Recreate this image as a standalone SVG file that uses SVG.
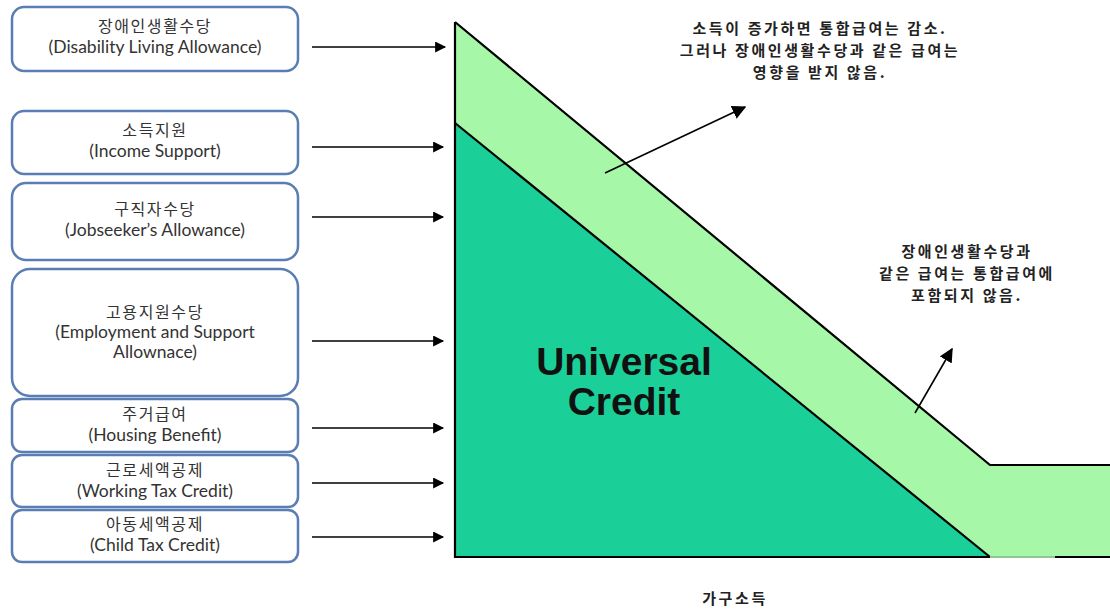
<svg xmlns="http://www.w3.org/2000/svg" width="1110" height="610" viewBox="0 0 1110 610">
<defs>
<style>
.box{fill:#fff;stroke:#5a7db3;stroke-width:2.5}
.bt{font-family:Lato,"Open Sans","Noto Sans CJK KR",sans-serif;font-size:17.5px;fill:#333;text-anchor:middle}
.ko{font-family:"Noto Sans CJK KR",sans-serif;font-size:16px;letter-spacing:1.6px;fill:#333;text-anchor:middle}
.note{font-family:"Noto Sans CJK KR",sans-serif;font-size:15px;letter-spacing:2.6px;font-weight:bold;fill:#222;text-anchor:middle}
.con{stroke:#000;stroke-width:1.6;fill:none;marker-end:url(#ah)}
.edge{stroke:#000;stroke-width:2.2;fill:none}
</style>
<marker id="ah" viewBox="0 0 10 10" refX="9" refY="5" markerWidth="12" markerHeight="11" markerUnits="userSpaceOnUse" orient="auto"><path d="M0,0 L10,5 L0,10 Z" fill="#000"/></marker>
<marker id="ah2" viewBox="0 0 10 10" refX="9" refY="5" markerWidth="14" markerHeight="14" markerUnits="userSpaceOnUse" orient="auto"><path d="M0,0 L10,5 L0,10 Z" fill="#000"/></marker>
</defs>
<rect width="1110" height="610" fill="#fff"/>
<g id="chart">
<polygon points="455,22 990,465 1110,465 1110,557 455,557" fill="#a6f7a8"/>
<polygon points="455,123 990,557 455,557" fill="#1bcf98"/>
<polyline class="edge" points="455,22 990,465 1110,465"/>
<line class="edge" x1="455" y1="123" x2="990" y2="557"/>
<polyline class="edge" points="455,22 455,557 990,557"/>
<line x1="990" y1="557" x2="1055" y2="557" stroke="#8fc894" stroke-width="2"/>
<line class="edge" x1="1055" y1="557" x2="1110" y2="557"/>
<text x="624" y="375" font-family="Liberation Sans,Arial,sans-serif" font-size="39" font-weight="bold" fill="#111" text-anchor="middle">Universal</text>
<text x="624" y="415" font-family="Liberation Sans,Arial,sans-serif" font-size="39" font-weight="bold" fill="#111" text-anchor="middle">Credit</text>
</g>
<g id="n1"><rect class="box" x="12" y="7" width="286" height="64" rx="12"/><text class="ko" x="155" y="32">장애인생활수당</text><text class="bt" x="155" y="53">(Disability Living Allowance)</text></g>
<g id="n2"><rect class="box" x="12" y="111" width="286" height="63" rx="12"/><text class="ko" x="155" y="136">소득지원</text><text class="bt" x="155" y="157">(Income Support)</text></g>
<g id="n3"><rect class="box" x="12" y="183" width="286" height="77" rx="14"/><text class="ko" x="155" y="215">구직자수당</text><text class="bt" x="155" y="236">(Jobseeker’s Allowance)</text></g>
<g id="n4"><rect class="box" x="12" y="269" width="286" height="127" rx="18"/><text class="ko" x="155" y="318">고용지원수당</text><text class="bt" x="155" y="338">(Employment and Support</text><text class="bt" x="155" y="358">Allownace)</text></g>
<g id="n5"><rect class="box" x="12" y="399" width="286" height="53" rx="10"/><text class="ko" x="155" y="420">주거급여</text><text class="bt" x="155" y="441">(Housing Benefit)</text></g>
<g id="n6"><rect class="box" x="12" y="455" width="286" height="52" rx="10"/><text class="ko" x="155" y="476">근로세액공제</text><text class="bt" x="155" y="497">(Working Tax Credit)</text></g>
<g id="n7"><rect class="box" x="12" y="510" width="286" height="52" rx="10"/><text class="ko" x="155" y="530">아동세액공제</text><text class="bt" x="155" y="551">(Child Tax Credit)</text></g>
<g id="notes">
<text class="note" x="820" y="34">소득이 증가하면 통합급여는 감소.</text>
<text class="note" x="820" y="56">그러나 장애인생활수당과 같은 급여는</text>
<text class="note" x="820" y="78">영향을 받지 않음.</text>
<text class="note" x="967" y="257">장애인생활수당과</text>
<text class="note" x="967" y="279">같은 급여는 통합급여에</text>
<text class="note" x="967" y="301">포함되지 않음.</text>
<text class="note" x="735" y="604">가구소득</text>
</g>
<g id="connectors">
<line class="con" x1="312" y1="47" x2="445" y2="47"/>
<line class="con" x1="312" y1="147" x2="443" y2="147"/>
<line class="con" x1="312" y1="217" x2="443" y2="217"/>
<line class="con" x1="312" y1="341" x2="443" y2="341"/>
<line class="con" x1="312" y1="428" x2="443" y2="428"/>
<line class="con" x1="312" y1="483" x2="443" y2="483"/>
<line class="con" x1="312" y1="537" x2="443" y2="537"/>
<line x1="605" y1="173" x2="745" y2="107" stroke="#000" stroke-width="1.6" marker-end="url(#ah2)"/>
<line x1="915" y1="413" x2="952" y2="349" stroke="#000" stroke-width="1.6" marker-end="url(#ah2)"/>
</g>
</svg>
